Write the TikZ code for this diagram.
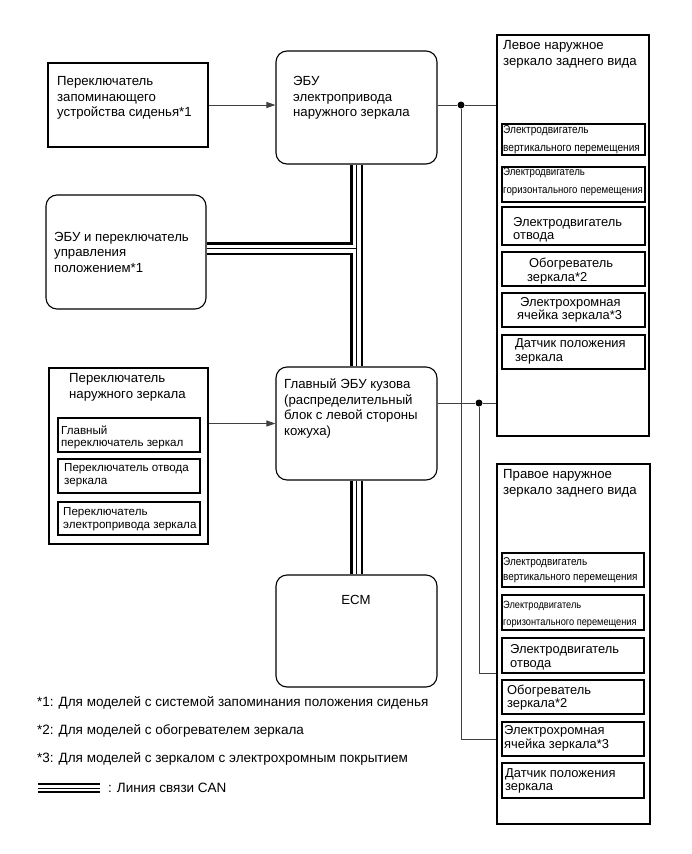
\documentclass[tikz,border=0pt]{standalone}
\usepackage{fontspec}
\setmainfont{Liberation Sans}
\newfontfamily\narrowfont[FakeStretch=0.88]{Liberation Sans}
\usetikzlibrary{fit,arrows.meta}
\begin{document}
\begin{tikzpicture}[x=1pt,y=-1pt,
  boxs/.style={draw=black, line width=1.1pt, inner sep=0pt},
  rbox/.style={boxs, rounded corners=11pt},
  txt/.style={inner sep=0pt, anchor=north west, align=left, font=\fontsize{13.2}{15.5}\selectfont},
  ftxt/.style={txt, anchor=west, font=\fontsize{13.5}{15.5}\selectfont},
  stxt/.style={txt, font=\fontsize{11.6}{12.5}\selectfont},
  mtxt/.style={txt, font=\fontsize{12.9}{13.5}\selectfont},
  ntxt/.style={txt, font=\narrowfont\fontsize{11.5}{17.5}\selectfont},
  nstxt/.style={txt, font=\narrowfont\fontsize{10.5}{16.5}\selectfont},
  conn/.style={draw=black!75, line width=0.9pt},
  arr/.style={conn, -{Triangle[length=9pt,width=6pt]}},
  dot/.style={circle, fill=black, inner sep=0pt, minimum size=7pt},
  canout/.style={line width=13pt, black},
  canin/.style={line width=8pt, white},
  canc/.style={line width=1pt, black},
  lgout/.style={line width=10.5pt, black},
  lgin/.style={line width=6.5pt, white},
  lgc/.style={line width=1pt, black}]
\useasboundingbox (0,0) rectangle (692,854);

% boxes
\node[boxs, fit={(48,63)(208,147)}] (sw1) {};
\node[rbox, fit={(276,51)(437,164)}] (ebu) {};
\node[rbox, fit={(46,195)(206,309)}] (pos) {};
\node[boxs, fit={(49,368)(208,544)}] (ms) {};
\node[boxs, fit={(58,418)(200,452)}] (ms1) {};
\node[boxs, fit={(58,459)(200,493)}] (ms2) {};
\node[boxs, fit={(58,502)(200,535)}] (ms3) {};
\node[rbox, fit={(276,367)(437,480)}] (main) {};
\node[rbox, fit={(276,575)(437,687)}] (ecm) {};
\node[boxs, fit={(497,35)(649,436)}] (lm) {};
\node[boxs, fit={(502,124)(645,155)}] (lma) {};
\node[boxs, fit={(502,167)(645,202)}] (lmb) {};
\node[boxs, fit={(502,207)(645,245)}] (lmc) {};
\node[boxs, fit={(502,252)(645,286)}] (lmd) {};
\node[boxs, fit={(502,293)(645,327)}] (lme) {};
\node[boxs, fit={(502,335)(645,369)}] (lmf) {};
\node[boxs, fit={(497,464)(650,824)}] (rm) {};
\node[boxs, fit={(502,553)(644,587)}] (rma) {};
\node[boxs, fit={(502,595)(644,630)}] (rmb) {};
\node[boxs, fit={(502,638)(644,673)}] (rmc) {};
\node[boxs, fit={(502,680)(644,714)}] (rmd) {};
\node[boxs, fit={(502,722)(644,756)}] (rme) {};
\node[boxs, fit={(502,763)(644,798)}] (rmf) {};

% texts
\node[txt] (t1) at (57,76.5) {Переключатель\\запоминающего\\устройства сиденья*1};
\node[txt] (t2) at (293,76.5) {ЭБУ\\электропривода\\наружного зеркала};
\node[txt] (t3) at (54,232) {ЭБУ и переключатель\\управления\\положением*1};
\node[txt] (t4) at (284,378.5) {Главный ЭБУ кузова\\(распределительный\\блок с левой стороны\\кожуха)};
\node[txt] (t5) at (69,373.5) {Переключатель\\наружного зеркала};
\node[stxt] (t6) at (61,425.5) {Главный\\переключатель зеркал};
\node[stxt] (t7) at (64,463.5) {Переключатель отвода\\зеркала};
\node[stxt] (t8) at (63,507.5) {Переключатель\\электропривода зеркала};
\node[inner sep=0pt, font=\fontsize{13.2}{15}\selectfont] (t9) at (356,600) {ECM};
\node[txt] (t10) at (503,40.5) {Левое наружное\\зеркало заднего вида};
\node[ntxt] (t11) at (503,125.5) {Электродвигатель\\вертикального перемещения};
\node[ntxt, font=\narrowfont\fontsize{11}{17.5}\selectfont] (t12) at (503,168) {Электродвигатель\\горизонтального перемещения};
\node[mtxt] (t13) at (513,217) {Электродвигатель\\отвода};
\node[mtxt] (t14) at (527,258) {\hspace*{2pt}Обогреватель\\зеркала*2};
\node[mtxt] (t15) at (517,297) {\hspace*{3pt}Электрохромная\\ячейка зеркала*3};
\node[mtxt] (t16) at (515,338.5) {Датчик положения\\зеркала};
\node[txt] (t17) at (503,469.5) {Правое наружное\\зеркало заднего вида};
\node[ntxt, font=\narrowfont\fontsize{11.3}{15.5}\selectfont] (t18) at (503,557) {Электродвигатель\\вертикального перемещения};
\node[nstxt] (t19) at (503,601) {Электродвигатель\\горизонтального перемещения};
\node[mtxt] (t20) at (510,644.5) {Электродвигатель\\отвода};
\node[mtxt] (t21) at (507,684.5) {Обогреватель\\зеркала*2};
\node[mtxt] (t22) at (504,725.5) {Электрохромная\\ячейка зеркала*3};
\node[mtxt] (t23) at (505,768) {Датчик положения\\зеркала};
\node[ftxt] (f1) at (37,703) {*1: Для моделей с системой запоминания положения сиденья};
\node[ftxt] (f2) at (37,731) {*2: Для моделей с обогревателем зеркала};
\node[ftxt] (f3) at (37,759) {*3: Для моделей с зеркалом с электрохромным покрытием};
\node[ftxt] (f4) at (108,788) {: Линия связи CAN};

% CAN bus
\coordinate (cj) at (356.5,248.5);
\coordinate (lg1) at (38,788);
\coordinate (lg2) at (100,788);
\draw[canout] (ebu.south) -- (main.north);
\draw[canout] (main.south) -- (ecm.north);
\draw[canout] (pos.east |- cj) -- (cj);
\draw[canin] (ebu.south) -- (main.north);
\draw[canin] (main.south) -- (ecm.north);
\draw[canin] (pos.east |- cj) -- (cj);
\draw[canc] (ebu.south) -- (main.north);
\draw[canc] (main.south) -- (ecm.north);
\draw[canc] (pos.east |- cj) -- (cj);
\draw[lgout] (lg1) -- (lg2);
\draw[lgin] (lg1) -- (lg2);
\draw[lgc] (lg1) -- (lg2);

% arrows
\draw[arr] (sw1.east) -- (sw1.east -| ebu.west);
\draw[arr] (ms.east |- main.west) -- (main.west);

% mirror connections
\node[dot] (d1) at (461,105) {};
\node[dot] (d2) at (479,403) {};
\coordinate (k2) at (479,673);
\draw[conn] (ebu.east |- d1) -- (d1) -- (lm.west |- d1);
\draw[conn] (d1) -- (d1 |- rme) -- (rm.west |- rme);
\draw[conn] (main.east |- d2) -- (d2) -- (lm.west |- d2);
\draw[conn] (d2) -- (k2) -- (rm.west |- k2);
\end{tikzpicture}
\end{document}
